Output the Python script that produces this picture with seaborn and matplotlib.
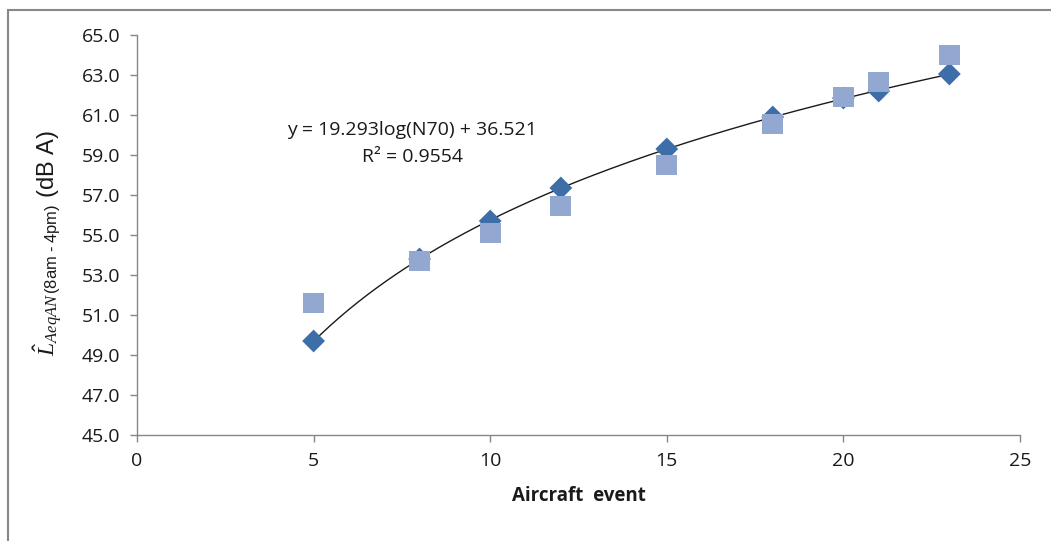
import numpy as np
import pandas as pd
import matplotlib
matplotlib.use("Agg")
import matplotlib.pyplot as plt
import seaborn as sns
from matplotlib.patches import Rectangle

# Data
events = [5, 8, 10, 12, 15, 18, 20, 21, 23]
predicted = [49.7, 53.8, 55.7, 57.35, 59.3, 60.9, 61.85, 62.2, 63.05]
measured = [51.6, 53.7, 55.1, 56.45, 58.5, 60.55, 61.9, 62.65, 64.0]
y_ticks = [45.0, 47.0, 49.0, 51.0, 53.0, 55.0, 57.0, 59.0, 61.0, 63.0, 65.0]
x_ticks = [0, 5, 10, 15, 20, 25]
equation = "y = 19.293log(N70) + 36.521"
r2_text = "R² = 0.9554"

sns.set_theme(style="white")
plt.rcParams['font.family'] = ['Open Sans', 'DejaVu Sans']
plt.rcParams['mathtext.fontset'] = 'custom'
plt.rcParams['mathtext.rm'] = 'Liberation Sans'
plt.rcParams['mathtext.it'] = 'Liberation Serif:italic'
plt.rcParams['mathtext.sf'] = 'Liberation Sans'

df = pd.DataFrame({"event": events, "pred": predicted, "meas": measured})

fig = plt.figure(figsize=(10.51, 5.41), dpi=100)
ax = fig.add_axes([137/1051, 1 - 435/541, 883/1051, 400/541])

# trend line (log fit of the diamond series)
b, a = np.polyfit(np.log(df["event"]), df["pred"], 1)
xs = np.linspace(min(events), max(events), 200)
ax.plot(xs, a + b*np.log(xs), color="#1a1a1a", lw=1.0, zorder=2)

sns.scatterplot(data=df, x="event", y="pred", marker="D", s=135, color="#3e6ea8",
                edgecolor="none", ax=ax, zorder=3, legend=False)
sns.scatterplot(data=df, x="event", y="meas", marker="s", s=225, color="#93a8d0",
                edgecolor="none", ax=ax, zorder=4, legend=False)

ax.set_xlim(0, 25)
ax.set_ylim(45, 65)
ax.set_xticks(x_ticks)
ax.set_yticks(y_ticks)
ax.set_xticklabels([str(v) for v in x_ticks])
ax.set_yticklabels([f"{v:.1f}" for v in y_ticks])
ax.tick_params(axis="both", which="major", direction="out", length=5, width=1,
               color="#868686", labelsize=14, labelcolor="#1a1a1a", pad=7)
ax.tick_params(axis="both", left=True, bottom=True)
for s in ["top", "right"]:
    ax.spines[s].set_visible(False)
for s in ["left", "bottom"]:
    ax.spines[s].set_color("#868686")
    ax.spines[s].set_linewidth(1)
ax.grid(False)

ax.set_xlabel("Aircraft  event", fontsize=13.5, fontweight="bold", color="#1a1a1a", labelpad=12)
ax.set_ylabel("")

fig.text(48/1051, 1 - 243/541,
         r"$\hat{L}_{AeqAN\,\mathsf{(8am\ \text{-}\ 4pm)}}$ (dB A)",
         rotation=90, ha="center", va="center", fontsize=17,
         family="Liberation Sans", color="#1a1a1a")

ax.text(412/1051, 1 - 130/541, equation, transform=fig.transFigure,
        ha="center", va="center", fontsize=14, color="#1a1a1a")
ax.text(412/1051, 1 - 157/541, r2_text, transform=fig.transFigure,
        ha="center", va="center", fontsize=14, color="#1a1a1a")

# outer chart border
fig.patches.append(Rectangle((8/1051, -0.1), 1.2, 1 - 10/541 + 0.1, transform=fig.transFigure,
                             fill=False, edgecolor="#888888", lw=1.5))

fig.savefig("out.png", dpi=100)
